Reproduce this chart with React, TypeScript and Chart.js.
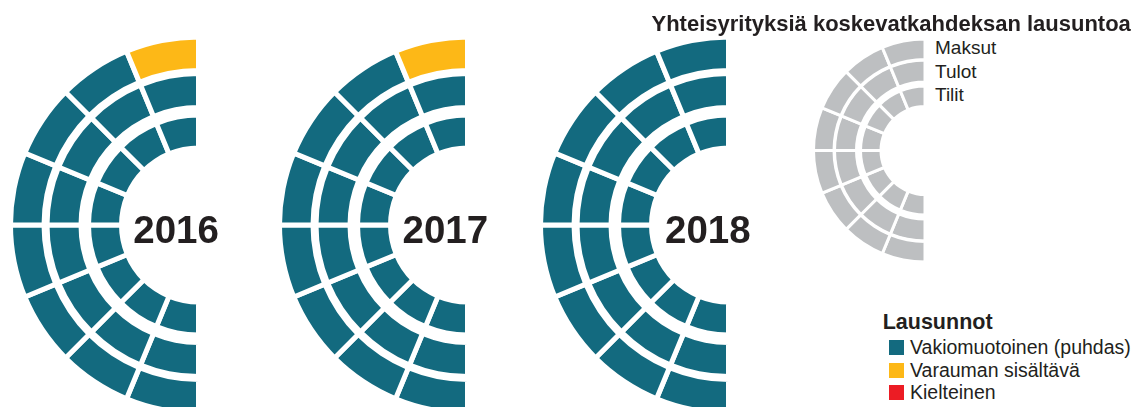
import React, { useEffect, useRef } from "react";
import { Chart, registerables } from "chart.js";

Chart.register(...registerables);

// ---------- DATA ----------
const years = ["2016", "2017", "2018"];
const ringNames = ["Maksut", "Tulot", "Tilit"];
const statusLabels = ["Vakiomuotoinen (puhdas)", "Varauman sisältävä", "Kielteinen"];
const statusColors = ["#136a7f", "#fdb817", "#ec1c24"];
const keyGray = "#bdbfc1";
const chartTitle = "Yhteisyrityksiä koskevatkahdeksan lausuntoa";
const legendTitle = "Lausunnot";

// status of each of the eight statements per ring, ordered top -> bottom
// 0 = vakiomuotoinen (puhdas), 1 = varauman sisältävä, 2 = kielteinen
const maksut2016 = [1, 0, 0, 0, 0, 0, 0, 0];
const tulot2016 = [0, 0, 0, 0, 0, 0, 0, 0];
const tilit2016 = [0, 0, 0, 0, 0, 0, 0, 0];
const maksut2017 = [1, 0, 0, 0, 0, 0, 0, 0];
const tulot2017 = [0, 0, 0, 0, 0, 0, 0, 0];
const tilit2017 = [0, 0, 0, 0, 0, 0, 0, 0];
const maksut2018 = [0, 0, 0, 0, 0, 0, 0, 0];
const tulot2018 = [0, 0, 0, 0, 0, 0, 0, 0];
const tilit2018 = [0, 0, 0, 0, 0, 0, 0, 0];
// each segment represents one statement
const statementValues = [1, 1, 1, 1, 1, 1, 1, 1];

const yearRings = [
  [maksut2016, tulot2016, tilit2016],
  [maksut2017, tulot2017, tilit2017],
  [maksut2018, tulot2018, tilit2018],
];

// ---------- GEOMETRY / STYLE ----------
type Geom = { R: number; inner: number; ringWeights: number[]; gapWeights: number[]; border: number };
const YEAR_GEOM: Geom = { R: 188, inner: 77, ringWeights: [33.5, 34, 33], gapWeights: [3, 7.5], border: 5 };
const KEY_GEOM: Geom = { R: 111.5, inner: 44, ringWeights: [20.5, 22, 20.5], gapWeights: [0.5, 4], border: 3 };
const yearCentersX = [198.5, 467.5, 728.5];
const yearCenterY = 225;
const keyCenter = { x: 925, y: 150.5 };

const FONT = '"Liberation Sans", Arial, Helvetica, sans-serif';
const TEXT = "#231f20";

function HalfDonut({ cx, cy, geom, ringColors }: { cx: number; cy: number; geom: Geom; ringColors: string[][] }) {
  const ref = useRef<HTMLCanvasElement | null>(null);
  const W = Math.ceil(geom.R) + 14;
  const H = Math.ceil(2 * geom.R) + 14;
  const cInX = W / 2 + geom.R / 2;
  const cInY = H / 2;
  const rawLeft = cx - cInX;
  const rawTop = cy - cInY;
  const left = Math.floor(rawLeft);
  const top = Math.floor(rawTop);
  const fx = rawLeft - left;
  const fy = rawTop - top;

  useEffect(() => {
    if (!ref.current) return;
    const datasets: any[] = [];
    ringColors.forEach((colors, i) => {
      datasets.push({
        label: ringNames[i],
        data: statementValues.slice().reverse(),
        backgroundColor: colors.slice().reverse(),
        borderColor: "#ffffff",
        borderWidth: geom.border,
        borderAlign: "center",
        borderJoinStyle: "miter",
        hoverOffset: 0,
        hoverBorderWidth: geom.border,
        weight: geom.ringWeights[i],
      });
      if (i < ringColors.length - 1) {
        datasets.push({
          label: "gap" + i,
          data: [1],
          backgroundColor: "rgba(0,0,0,0)",
          borderWidth: 0,
          hoverBorderWidth: 0,
          hoverOffset: 0,
          weight: geom.gapWeights[i],
        });
      }
    });
    const chart = new Chart(ref.current, {
      type: "doughnut",
      data: { labels: statementValues.map((_, i) => String(i + 1)), datasets },
      options: {
        responsive: false,
        animation: false,
        devicePixelRatio: 1,
        events: [],
        rotation: 180,
        circumference: 180,
        radius: geom.R,
        cutout: (geom.inner / geom.R) * 100 + "%",
        layout: { padding: { left: 2 * fx, top: 2 * fy, right: 0, bottom: 0 } },
        plugins: { legend: { display: false }, tooltip: { enabled: false }, title: { display: false } },
      } as any,
    });
    return () => chart.destroy();
  }, []);

  return (
    <canvas
      ref={ref}
      width={W}
      height={H}
      style={{ position: "absolute", left, top, width: W, height: H }}
    />
  );
}

function Txt({ x, baseline, size, bold, children }: any) {
  return (
    <div
      style={{
        position: "absolute",
        left: x,
        top: baseline - 0.8465 * size,
        fontFamily: FONT,
        fontSize: size,
        lineHeight: size + "px",
        fontWeight: bold ? 700 : 400,
        color: TEXT,
        whiteSpace: "nowrap",
      }}
    >
      {children}
    </div>
  );
}

const yearLabelX = [133.3, 402.5, 665];
const ringLabelBaselines = [54.3, 77.7, 101];
const legendBaselines = [355, 378, 400];

export default function App() {
  return (
    <div
      style={{
        position: "fixed",
        left: 0,
        top: 0,
        width: 1139,
        height: 407,
        overflow: "hidden",
        background: "#ffffff",
      }}
    >
      {years.map((y, i) => (
        <HalfDonut
          key={y}
          cx={yearCentersX[i]}
          cy={yearCenterY}
          geom={YEAR_GEOM}
          ringColors={yearRings[i].map((ring) => ring.map((s) => statusColors[s]))}
        />
      ))}
      <HalfDonut
        cx={keyCenter.x}
        cy={keyCenter.y}
        geom={KEY_GEOM}
        ringColors={ringNames.map(() => statementValues.map(() => keyGray))}
      />
      {years.map((y, i) => (
        <Txt key={"t" + y} x={yearLabelX[i]} baseline={243.3} size={38.5} bold>
          {y}
        </Txt>
      ))}
      <Txt x={651.5} baseline={31.7} size={22} bold>
        {chartTitle}
      </Txt>
      {ringNames.map((n, i) => (
        <Txt key={n} x={935} baseline={ringLabelBaselines[i]} size={19}>
          {n}
        </Txt>
      ))}
      <Txt x={882.7} baseline={330} size={21.5} bold>
        {legendTitle}
      </Txt>
      {statusLabels.map((l, i) => (
        <React.Fragment key={l}>
          <div
            style={{
              position: "absolute",
              left: 889,
              top: legendBaselines[i] - 15,
              width: 15,
              height: 15,
              background: statusColors[i],
            }}
          />
          <Txt x={910} baseline={legendBaselines[i]} size={19.5}>
            {l}
          </Txt>
        </React.Fragment>
      ))}
    </div>
  );
}
